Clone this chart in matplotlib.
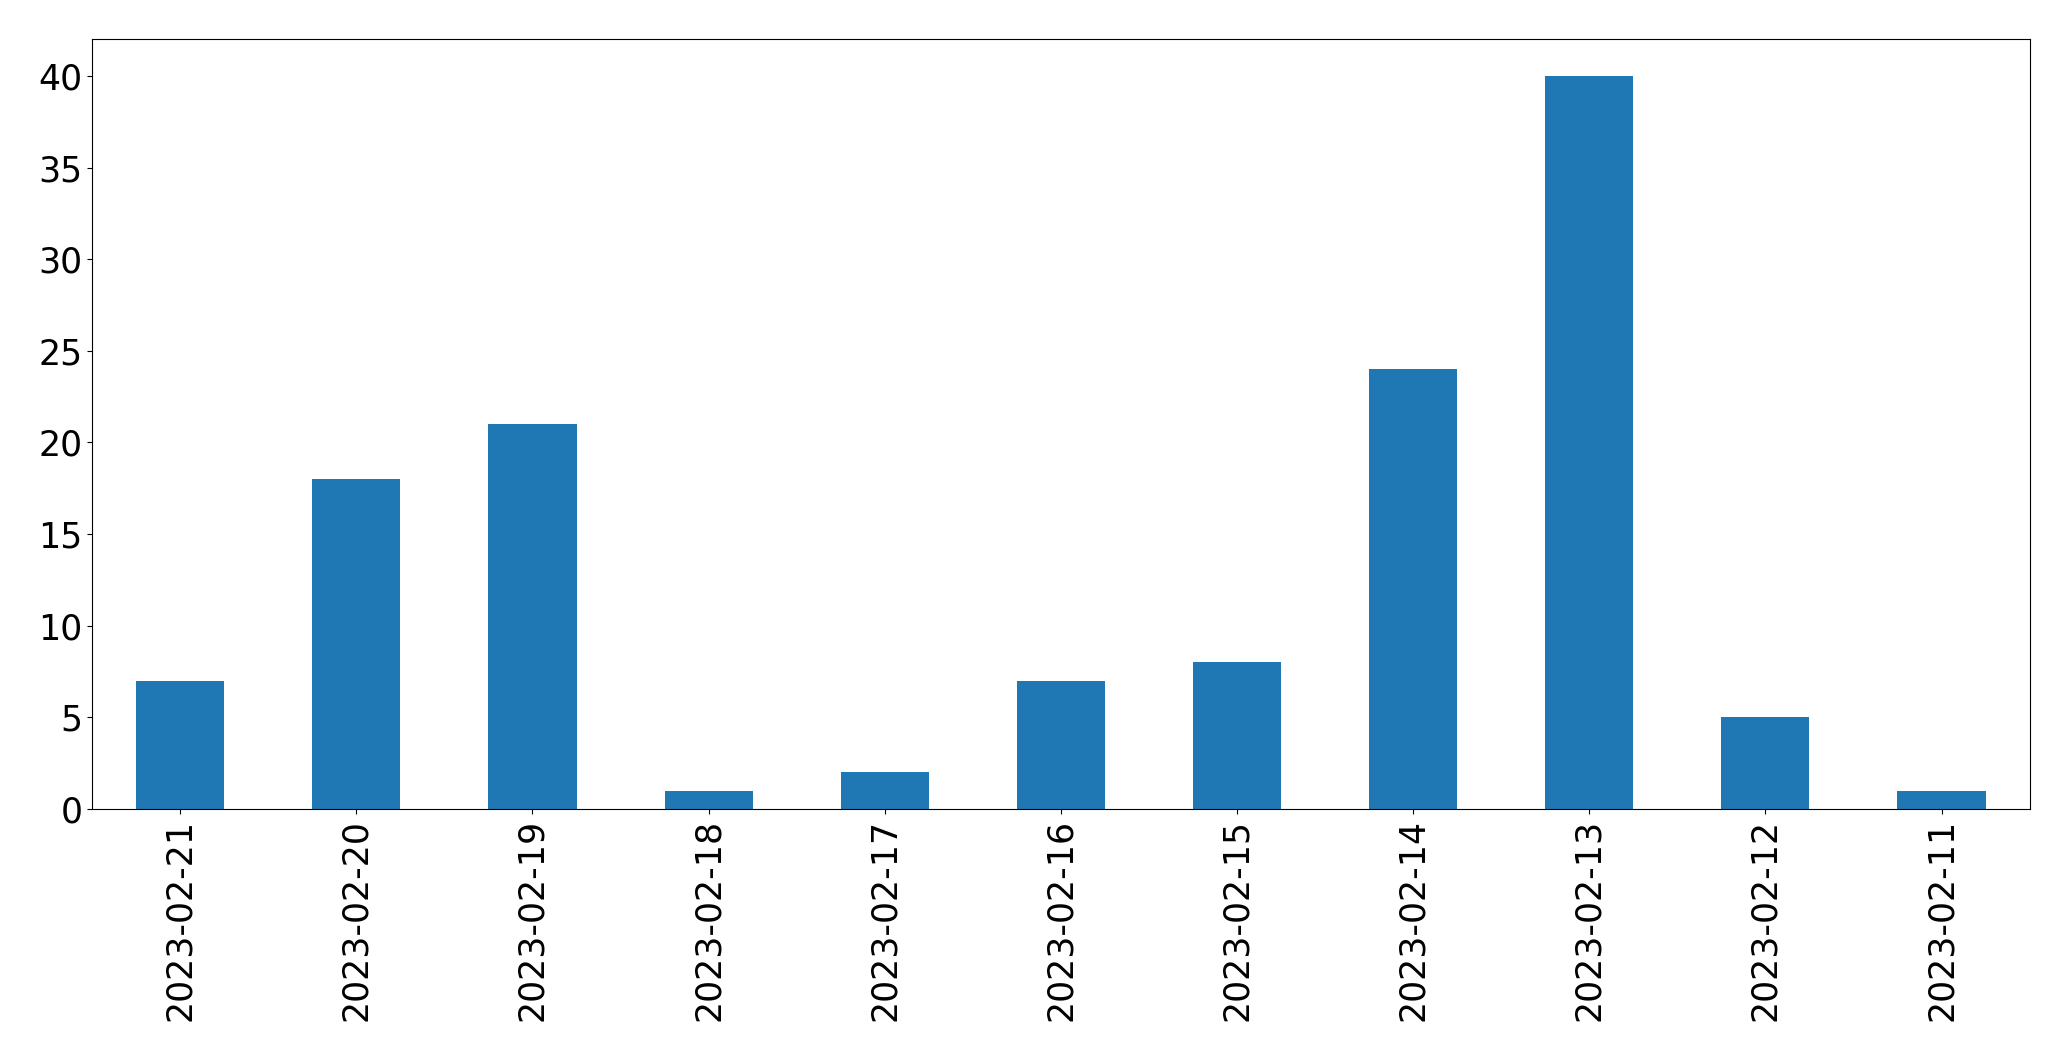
import matplotlib
matplotlib.use("Agg")
from matplotlib import pyplot as plt
import numpy as np

dates = ["2023-02-21", "2023-02-20", "2023-02-19", "2023-02-18", "2023-02-17",
         "2023-02-16", "2023-02-15", "2023-02-14", "2023-02-13", "2023-02-12",
         "2023-02-11"]
counts = [7, 18, 21, 1, 2, 7, 8, 24, 40, 5, 1]

fig, ax = plt.subplots(figsize=(20.71, 10.61), dpi=100)
x = np.arange(len(dates))
ax.bar(x, counts, width=0.5, color="#1f77b4")
ax.set_xticks(x)
ax.set_xticklabels(dates, rotation=90)
ax.set_xlim(-0.5, len(dates) - 0.5)
ax.tick_params(labelsize=25)
fig.subplots_adjust(left=0.0445, right=0.98, top=0.963, bottom=0.2375)
fig.savefig("out.png", dpi=100)
